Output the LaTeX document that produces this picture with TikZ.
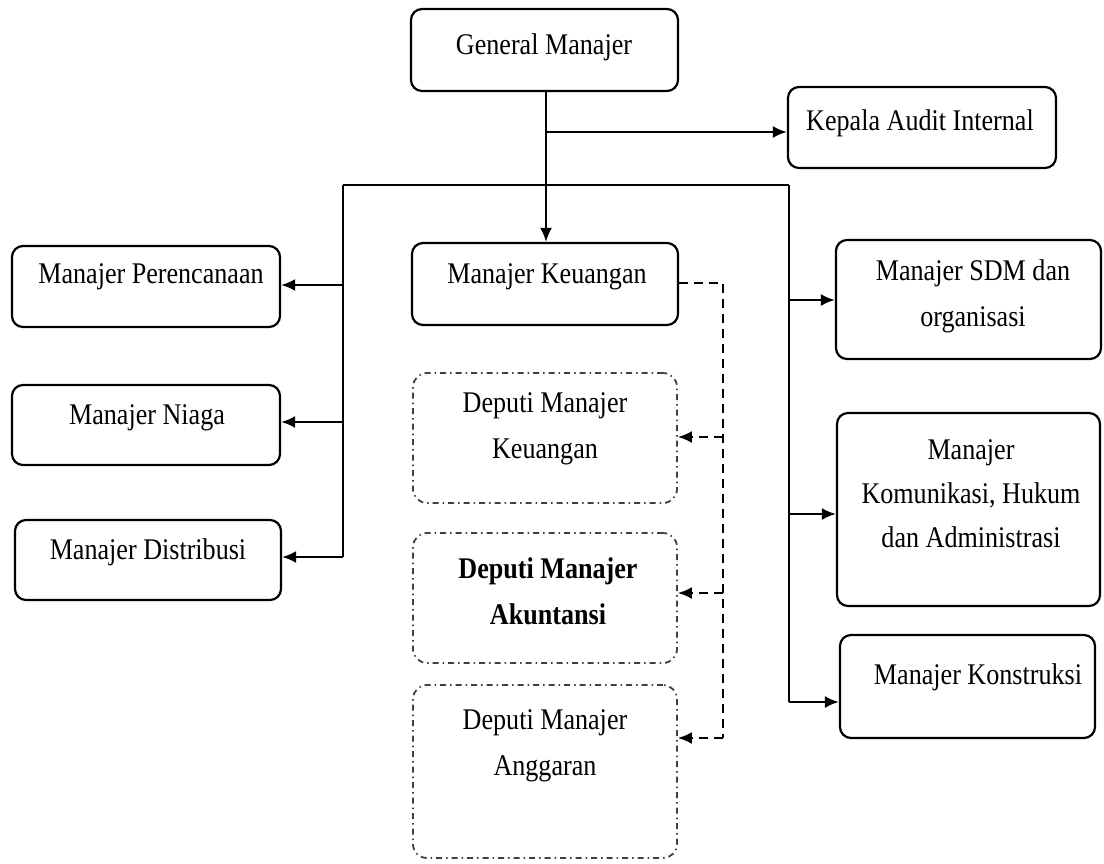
\documentclass[tikz,border=0pt]{standalone}
\usepackage{fontspec}
\setmainfont{Liberation Serif}[FakeStretch=0.87]
\usetikzlibrary{arrows.meta}
\begin{document}
\begin{tikzpicture}[x=1pt,y=-1pt,
  box/.style={draw, line width=2.2pt, rounded corners=11pt, inner sep=0pt},
  dbox/.style={draw=black!75, line width=1.8pt, rounded corners=14pt, dash pattern=on 6pt off 4pt on 1.5pt off 4pt, inner sep=0pt},
  txt/.style={font=\fontsize{30}{46}\selectfont, align=center, inner sep=0pt},
  conn/.style={line width=2.2pt},
  arr/.style={conn, -{Latex[length=14pt,width=12pt]}},
  dconn/.style={line width=2.2pt, dash pattern=on 9pt off 6pt},
  darr/.style={dconn, -{Latex[length=14pt,width=12pt]}}
]
\useasboundingbox (0,0) rectangle (1104,863);

% boxes
\node[box, minimum width=267pt, minimum height=82pt] (gm) at (544.5,50) {};
\node[box, minimum width=268pt, minimum height=81pt] (kai) at (922,127.5) {};
\node[box, minimum width=268pt, minimum height=81pt] (mp) at (146,286.5) {};
\node[box, minimum width=268pt, minimum height=80pt] (mn) at (146,425) {};
\node[box, minimum width=266pt, minimum height=80pt] (md) at (148,560) {};
\node[box, minimum width=266pt, minimum height=82pt] (mk) at (545,284) {};
\node[dbox, minimum width=264pt, minimum height=130pt] (dk) at (545,438) {};
\node[dbox, minimum width=264pt, minimum height=130pt] (da) at (545,598) {};
\node[dbox, minimum width=264pt, minimum height=173pt] (dg) at (545,771.5) {};
\node[box, minimum width=265pt, minimum height=119pt] (sdm) at (968.5,299.5) {};
\node[box, minimum width=263pt, minimum height=193pt] (kom) at (968.5,509.5) {};
\node[box, minimum width=255pt, minimum height=103pt] (kon) at (967.5,686.5) {};

% texts
\node[txt] (gmt) at (544,47) {General Manajer};
\node[txt] (kait) at (920,123) {Kepala Audit Internal};
\node[txt] (mpt) at (151,277) {Manajer Perencanaan};
\node[txt] (mnt) at (147,418) {Manajer Niaga};
\node[txt] (mdt) at (148,552) {Manajer Distribusi};
\node[txt] (mkt) at (547,277) {Manajer Keuangan};
\node[txt] (dkt) at (545,429) {Deputi Manajer\\Keuangan};
\node[txt, font=\fontsize{30}{46}\selectfont\bfseries] (dat) at (548,591) {Deputi Manajer\\Akuntansi};
\node[txt] (dgt) at (545,746) {Deputi Manajer\\Anggaran};
\node[txt] (sdmt) at (973,296) {Manajer SDM dan\\organisasi};
\node[txt, font=\fontsize{30}{44}\selectfont] (komt) at (971,494) {Manajer\\Komunikasi, Hukum\\dan Administrasi};
\node[txt] (kont) at (978,677) {Manajer Konstruksi};

% junction coordinates
\coordinate (ja) at (546,132);
\coordinate (bl) at (343,185);
\coordinate (br) at (789,185);
\coordinate (l1) at (343,285);
\coordinate (l2) at (343,422);
\coordinate (l3) at (343,557);
\coordinate (r1) at (789,300);
\coordinate (r2) at (789,514);
\coordinate (r3) at (789,702);
\coordinate (d0) at (723,283);
\coordinate (d1) at (723,437);
\coordinate (d2) at (723,593);
\coordinate (d3) at (723,738);

% solid connectors
\draw[arr] (gm.south -| ja) -- (mk.north -| ja);
\draw[arr] (ja) -- (ja -| kai.west);
\draw[conn] (bl) -- (br);
\draw[conn] (bl) -- (l3);
\draw[arr] (l1) -- (l1 -| mp.east);
\draw[arr] (l2) -- (l2 -| mn.east);
\draw[arr] (l3) -- (l3 -| md.east);
\draw[conn] (br) -- (r3);
\draw[arr] (r1) -- (r1 -| sdm.west);
\draw[arr] (r2) -- (r2 -| kom.west);
\draw[arr] (r3) -- (r3 -| kon.west);

% dashed connectors
\draw[dconn] (d0 -| mk.east) -- (d0) -- (d3);
\draw[darr] (d1) -- (d1 -| dk.east);
\draw[darr] (d2) -- (d2 -| da.east);
\draw[darr] (d3) -- (d3 -| dg.east);
\end{tikzpicture}
\end{document}
